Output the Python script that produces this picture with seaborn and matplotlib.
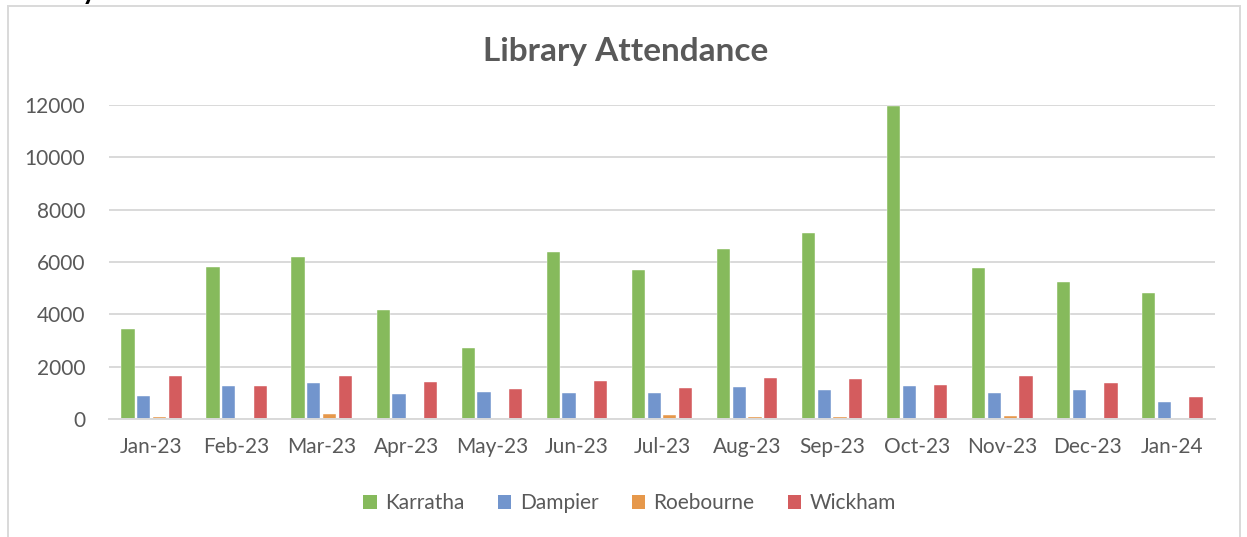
import numpy as np
import pandas as pd
import matplotlib
matplotlib.use("Agg")
import matplotlib.pyplot as plt
from matplotlib.patches import Rectangle, Patch
import seaborn as sns

months = ["Jan-23", "Feb-23", "Mar-23", "Apr-23", "May-23", "Jun-23", "Jul-23",
          "Aug-23", "Sep-23", "Oct-23", "Nov-23", "Dec-23", "Jan-24"]
karratha = [3450, 5810, 6200, 4160, 2710, 6380, 5710, 6510, 7090, 11950, 5770, 5240, 4810]
dampier = [870, 1250, 1390, 970, 1040, 980, 1010, 1240, 1120, 1260, 990, 1100, 660]
roebourne = [80, 10, 180, 40, 50, 0, 155, 90, 60, 50, 100, 40, 40]
wickham = [1625, 1260, 1625, 1430, 1135, 1455, 1200, 1560, 1510, 1300, 1640, 1370, 825]
libraries = ["Karratha", "Dampier", "Roebourne", "Wickham"]
colors = ["#86BA5C", "#7295CD", "#E6984B", "#D45C5E"]

df = pd.DataFrame({"Month": months, "Karratha": karratha, "Dampier": dampier,
                   "Roebourne": roebourne, "Wickham": wickham})
long = df.melt(id_vars="Month", var_name="Library", value_name="Attendance")

sns.set_style("white")
plt.rcParams["font.family"] = ["Lato", "DejaVu Sans"]
grey = "#595959"

fig = plt.figure(figsize=(12.47, 5.37), dpi=100)
ax = fig.add_axes([109 / 1247, 1 - 419 / 537, (1215 - 109) / 1247, (419 - 105) / 537])

sns.barplot(data=long, x="Month", y="Attendance", hue="Library", hue_order=libraries,
            order=months, palette=colors, width=0.74, gap=0.16, errorbar=None,
            saturation=1, edgecolor="white", linewidth=0.3, legend=False, ax=ax)

ax.set_ylim(0, 12000)
ax.set_xlim(-0.5, len(months) - 0.5)
ax.set_yticks(range(0, 12001, 2000))
ax.yaxis.grid(True, color="#D9D9D9", linewidth=1.4)
ax.set_axisbelow(True)
ax.set_xlabel("")
ax.set_ylabel("")
for s in ["top", "right", "left"]:
    ax.spines[s].set_visible(False)
ax.spines["bottom"].set_color("#D9D9D9")
ax.spines["bottom"].set_linewidth(1.4)
ax.tick_params(axis="y", length=0, pad=17, labelsize=15, labelcolor=grey)
ax.tick_params(axis="x", which="major", length=0, pad=13, labelsize=15, labelcolor=grey)
ax.set_xticks(np.arange(-0.5, len(months)), minor=True)
ax.tick_params(axis="x", which="minor", length=6, width=1.4, color="#D9D9D9", direction="out")

fig.text(0.502, 1 - 51 / 537, "Library Attendance", ha="center", va="center",
         fontsize=24, fontweight="bold", color=grey)

handles = [Patch(facecolor=c, edgecolor="none", label=l) for c, l in zip(colors, libraries)]
fig.legend(handles=handles, loc="center", bbox_to_anchor=(0.505, 1 - 503 / 537), ncol=4,
           frameon=False, fontsize=15, labelcolor=grey, handlelength=0.65,
           handleheight=0.65, handletextpad=0.4, columnspacing=1.6)

# outer chart border and the clipped heading above it
fig.patches.append(Rectangle((8 / 1247, -0.05), (1240 - 8) / 1247, 1.05 - 6 / 537,
                             transform=fig.transFigure, fill=False,
                             edgecolor="#D9D9D9", linewidth=1.4))
fig.text(10 / 1247, 1 + 1 / 537, "Library Services", ha="left", va="baseline",
         fontsize=20, fontweight="bold", color="black")

fig.savefig("out.png", dpi=100)
